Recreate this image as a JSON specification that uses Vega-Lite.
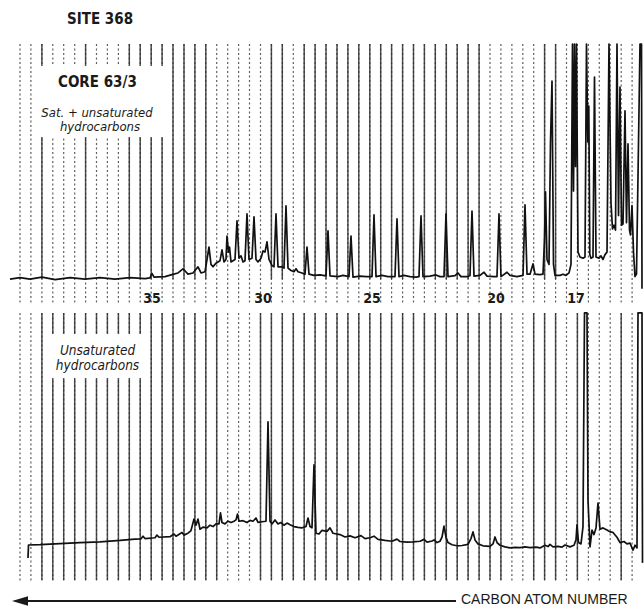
{
  "$schema": "https://vega.github.io/schema/vega-lite/v6.json",
  "padding": 0,
  "spacing": 0,
  "background": "white",
  "config": {"view": {"stroke": null}, "concat": {"spacing": 0}},
  "datasets": {
    "paperLines": [{"rt":20.0},{"rt":30.9},{"rt":41.9},{"rt":52.8},{"rt":63.7},{"rt":74.7},{"rt":85.6},{"rt":96.5},{"rt":107.4},{"rt":118.4},{"rt":129.3},{"rt":140.2},{"rt":151.2},{"rt":162.1},{"rt":173.0},{"rt":184.0},{"rt":194.9},{"rt":205.8},{"rt":216.7},{"rt":227.7},{"rt":238.6},{"rt":249.5},{"rt":260.5},{"rt":271.4},{"rt":282.3},{"rt":293.3},{"rt":304.2},{"rt":315.1},{"rt":326.0},{"rt":337.0},{"rt":347.9},{"rt":358.8},{"rt":369.8},{"rt":380.7},{"rt":391.6},{"rt":402.6},{"rt":413.5},{"rt":424.4},{"rt":435.3},{"rt":446.3},{"rt":457.2},{"rt":468.1},{"rt":479.1},{"rt":490.0},{"rt":500.9},{"rt":511.9},{"rt":522.8},{"rt":533.7},{"rt":544.6},{"rt":555.6},{"rt":566.5},{"rt":577.4},{"rt":588.4},{"rt":599.3},{"rt":610.2},{"rt":621.2},{"rt":632.1}],
    "topSolid": [{"rt":41.9},{"rt":85.6},{"rt":129.3},{"rt":140.2},{"rt":151.2},{"rt":162.1},{"rt":173.0},{"rt":184.0},{"rt":194.9},{"rt":205.8},{"rt":271.4},{"rt":282.3},{"rt":304.2},{"rt":315.1},{"rt":326.0},{"rt":337.0},{"rt":347.9},{"rt":358.8},{"rt":369.8},{"rt":380.7},{"rt":391.6},{"rt":402.6},{"rt":413.5},{"rt":424.4},{"rt":435.3},{"rt":446.3},{"rt":457.2},{"rt":468.1},{"rt":479.1},{"rt":544.6},{"rt":555.6}],
    "bottomSolid": [{"rt":41.9},{"rt":52.8},{"rt":63.7},{"rt":74.7},{"rt":85.6},{"rt":96.5},{"rt":107.4},{"rt":118.4},{"rt":129.3},{"rt":140.2},{"rt":151.2},{"rt":162.1},{"rt":173.0},{"rt":184.0},{"rt":194.9},{"rt":205.8},{"rt":216.7},{"rt":260.5},{"rt":271.4},{"rt":282.3},{"rt":293.3},{"rt":304.2},{"rt":315.1},{"rt":326.0},{"rt":337.0},{"rt":347.9},{"rt":358.8},{"rt":369.8},{"rt":380.7},{"rt":391.6},{"rt":402.6},{"rt":413.5},{"rt":424.4},{"rt":435.3},{"rt":446.3},{"rt":457.2},{"rt":468.1},{"rt":479.1},{"rt":490.0},{"rt":500.9},{"rt":533.7},{"rt":544.6},{"rt":555.6},{"rt":577.4},{"rt":621.2}],
    "topTrace": [{"rt":10,"signal":4.0},{"rt":20,"signal":4.6},{"rt":30,"signal":4.0},{"rt":42,"signal":4.8},{"rt":55,"signal":3.8},{"rt":70,"signal":4.6},{"rt":85,"signal":4.0},{"rt":100,"signal":4.6},{"rt":115,"signal":4.0},{"rt":130,"signal":4.6},{"rt":145,"signal":4.2},{"rt":150,"signal":4.5},{"rt":152,"signal":6.3},{"rt":154,"signal":4.8},{"rt":165,"signal":5.0},{"rt":172,"signal":5.8},{"rt":178,"signal":6.5},{"rt":183,"signal":8.2},{"rt":188,"signal":6.0},{"rt":193,"signal":6.5},{"rt":198,"signal":9.0},{"rt":201,"signal":6.5},{"rt":205,"signal":7.0},{"rt":207,"signal":12},{"rt":209,"signal":17.1},{"rt":211,"signal":10},{"rt":213,"signal":9.0},{"rt":216,"signal":10.5},{"rt":218,"signal":11},{"rt":220,"signal":11.5},{"rt":222,"signal":15.9},{"rt":224,"signal":11},{"rt":226,"signal":12},{"rt":227,"signal":21.6},{"rt":228.5,"signal":15},{"rt":229.5,"signal":17.1},{"rt":231,"signal":11},{"rt":233,"signal":11.5},{"rt":235,"signal":12},{"rt":237,"signal":27.8},{"rt":239,"signal":12.5},{"rt":241,"signal":13.5},{"rt":243,"signal":11},{"rt":245,"signal":11.5},{"rt":247,"signal":30.6},{"rt":249,"signal":12},{"rt":252,"signal":12.5},{"rt":254,"signal":29.4},{"rt":256,"signal":12},{"rt":258,"signal":11},{"rt":261,"signal":12.5},{"rt":263,"signal":15.5},{"rt":265,"signal":15},{"rt":267,"signal":19.2},{"rt":269,"signal":12},{"rt":272,"signal":9.5},{"rt":274,"signal":9},{"rt":276,"signal":30.6},{"rt":278,"signal":9},{"rt":281,"signal":9},{"rt":284,"signal":8.5},{"rt":286,"signal":33.9},{"rt":288,"signal":8.5},{"rt":291,"signal":7.5},{"rt":294,"signal":7.0},{"rt":296,"signal":8.2},{"rt":298,"signal":7.0},{"rt":302,"signal":6.5},{"rt":305,"signal":6.0},{"rt":307,"signal":17.1},{"rt":309,"signal":6.0},{"rt":314,"signal":5.5},{"rt":320,"signal":5.7},{"rt":326,"signal":5.3},{"rt":328,"signal":23.7},{"rt":330,"signal":5.3},{"rt":338,"signal":5.0},{"rt":343,"signal":5.5},{"rt":349,"signal":5.0},{"rt":351,"signal":21.6},{"rt":353,"signal":4.8},{"rt":360,"signal":5.2},{"rt":366,"signal":5.0},{"rt":372,"signal":5.0},{"rt":374,"signal":30.2},{"rt":376,"signal":5.0},{"rt":382,"signal":5.5},{"rt":388,"signal":5.0},{"rt":395,"signal":5.0},{"rt":397,"signal":28.6},{"rt":399,"signal":5.0},{"rt":404,"signal":5.5},{"rt":410,"signal":5.0},{"rt":416,"signal":4.8},{"rt":419,"signal":5.0},{"rt":421,"signal":29.8},{"rt":423,"signal":5.0},{"rt":430,"signal":5.2},{"rt":436,"signal":5.7},{"rt":440,"signal":5.0},{"rt":444,"signal":5.0},{"rt":446,"signal":30.6},{"rt":448,"signal":5.0},{"rt":455,"signal":5.4},{"rt":458,"signal":6.5},{"rt":461,"signal":5.0},{"rt":468,"signal":5.0},{"rt":470,"signal":5.5},{"rt":472,"signal":31.8},{"rt":474,"signal":5.2},{"rt":480,"signal":5.5},{"rt":484,"signal":6.8},{"rt":487,"signal":5.2},{"rt":494,"signal":5.0},{"rt":497,"signal":5.0},{"rt":499,"signal":30.6},{"rt":501,"signal":5.0},{"rt":507,"signal":6.8},{"rt":510,"signal":5.5},{"rt":517,"signal":5.0},{"rt":523,"signal":5.5},{"rt":525,"signal":34.3},{"rt":527,"signal":6.0},{"rt":530,"signal":6.0},{"rt":533,"signal":10.2},{"rt":535,"signal":6.0},{"rt":540,"signal":5.8},{"rt":543,"signal":6.0},{"rt":544.5,"signal":20},{"rt":545.5,"signal":39.6},{"rt":547,"signal":12},{"rt":549,"signal":10},{"rt":550.5,"signal":60},{"rt":552,"signal":84.9},{"rt":553.5,"signal":10},{"rt":555,"signal":5.5},{"rt":560,"signal":5.5},{"rt":563,"signal":6.0},{"rt":566,"signal":5.5},{"rt":569,"signal":6.5},{"rt":571,"signal":10},{"rt":572.5,"signal":100},{"rt":573.5,"signal":40},{"rt":574.5,"signal":100},{"rt":575.5,"signal":50},{"rt":576.5,"signal":100},{"rt":578,"signal":15},{"rt":580,"signal":13},{"rt":583,"signal":12.5},{"rt":585,"signal":13},{"rt":586.5,"signal":100},{"rt":587.8,"signal":60},{"rt":588.8,"signal":74.7},{"rt":589.8,"signal":14},{"rt":591,"signal":12.5},{"rt":593,"signal":13},{"rt":594.5,"signal":86.5},{"rt":596,"signal":13},{"rt":599,"signal":12.5},{"rt":601,"signal":13.5},{"rt":603,"signal":12},{"rt":605,"signal":14},{"rt":607,"signal":15},{"rt":609,"signal":100},{"rt":611,"signal":35},{"rt":612.5,"signal":24.5},{"rt":614,"signal":26},{"rt":615.5,"signal":24},{"rt":617,"signal":100},{"rt":618.5,"signal":30},{"rt":620,"signal":82.4},{"rt":621.5,"signal":26},{"rt":623,"signal":26.5},{"rt":625,"signal":72.7},{"rt":626.5,"signal":27},{"rt":628,"signal":59.2},{"rt":629.5,"signal":24},{"rt":630.5,"signal":22},{"rt":632,"signal":34},{"rt":633.5,"signal":15},{"rt":635,"signal":5},{"rt":636.5,"signal":6},{"rt":638,"signal":46.1},{"rt":640,"signal":100},{"rt":641.5,"signal":100},{"rt":642,"signal":0}],
    "bottomTrace": [{"rt":28,"signal":8.2},{"rt":28.5,"signal":13.1},{"rt":40,"signal":13.2},{"rt":60,"signal":13.6},{"rt":80,"signal":14.0},{"rt":100,"signal":14.3},{"rt":120,"signal":14.8},{"rt":135,"signal":15.3},{"rt":141,"signal":15.4},{"rt":143,"signal":16.4},{"rt":145,"signal":15.5},{"rt":155,"signal":15.8},{"rt":157,"signal":16.8},{"rt":159,"signal":16},{"rt":170,"signal":16.2},{"rt":174,"signal":17.2},{"rt":176,"signal":16.4},{"rt":182,"signal":17.8},{"rt":184,"signal":16.8},{"rt":188,"signal":17.5},{"rt":191,"signal":18.5},{"rt":194,"signal":22.8},{"rt":196,"signal":20.5},{"rt":198,"signal":22.8},{"rt":200,"signal":19},{"rt":203,"signal":19.8},{"rt":207,"signal":19.5},{"rt":210,"signal":20.5},{"rt":213,"signal":20},{"rt":216,"signal":21},{"rt":219,"signal":21},{"rt":220.5,"signal":25.1},{"rt":222,"signal":21.5},{"rt":225,"signal":21},{"rt":228,"signal":22},{"rt":231,"signal":21.5},{"rt":234,"signal":22},{"rt":236,"signal":22.5},{"rt":237.5,"signal":24.7},{"rt":239,"signal":22},{"rt":243,"signal":22.2},{"rt":247,"signal":21.5},{"rt":250,"signal":22.3},{"rt":253,"signal":22},{"rt":256,"signal":23.2},{"rt":258,"signal":21.6},{"rt":262,"signal":21.8},{"rt":266,"signal":22},{"rt":268,"signal":59.2},{"rt":270,"signal":22},{"rt":272,"signal":21},{"rt":275,"signal":22.5},{"rt":278,"signal":21},{"rt":281,"signal":21.5},{"rt":284,"signal":20.5},{"rt":287,"signal":21.3},{"rt":290,"signal":20.7},{"rt":294,"signal":20},{"rt":298,"signal":19.7},{"rt":302,"signal":19.5},{"rt":306,"signal":20},{"rt":308,"signal":23.2},{"rt":310,"signal":20},{"rt":312,"signal":19.5},{"rt":314,"signal":43.1},{"rt":316,"signal":17.5},{"rt":319,"signal":17.2},{"rt":322,"signal":18.6},{"rt":327,"signal":18.2},{"rt":330,"signal":19.5},{"rt":333,"signal":17.5},{"rt":340,"signal":17},{"rt":345,"signal":16.1},{"rt":350,"signal":16.5},{"rt":355,"signal":15.8},{"rt":361,"signal":16.6},{"rt":365,"signal":15.5},{"rt":370,"signal":15.8},{"rt":374,"signal":16.4},{"rt":378,"signal":15.2},{"rt":385,"signal":14.8},{"rt":392,"signal":14.5},{"rt":397,"signal":15.3},{"rt":400,"signal":14.4},{"rt":407,"signal":14.2},{"rt":413,"signal":14.3},{"rt":420,"signal":14.5},{"rt":424,"signal":15.2},{"rt":427,"signal":14.2},{"rt":432,"signal":14.6},{"rt":434,"signal":15.0},{"rt":437,"signal":14.0},{"rt":440,"signal":14.5},{"rt":442,"signal":16},{"rt":444,"signal":20.2},{"rt":446,"signal":16},{"rt":448,"signal":14},{"rt":452,"signal":13.2},{"rt":457,"signal":12.8},{"rt":462,"signal":12.9},{"rt":468,"signal":13.3},{"rt":471,"signal":15.5},{"rt":473,"signal":18.0},{"rt":475,"signal":15.0},{"rt":478,"signal":13.5},{"rt":483,"signal":12.8},{"rt":490,"signal":12.6},{"rt":493,"signal":13.5},{"rt":495,"signal":16.1},{"rt":497,"signal":14},{"rt":500,"signal":13},{"rt":505,"signal":12.4},{"rt":510,"signal":12},{"rt":515,"signal":12.2},{"rt":520,"signal":12.1},{"rt":525,"signal":12.4},{"rt":530,"signal":12.1},{"rt":536,"signal":12.3},{"rt":540,"signal":12.0},{"rt":545,"signal":13.0},{"rt":548,"signal":12.5},{"rt":550,"signal":13.3},{"rt":553,"signal":12.4},{"rt":558,"signal":12.6},{"rt":562,"signal":12.3},{"rt":565,"signal":13.1},{"rt":570,"signal":12.4},{"rt":574,"signal":13},{"rt":576,"signal":15},{"rt":577,"signal":20.6},{"rt":578.5,"signal":14},{"rt":581,"signal":13.5},{"rt":583,"signal":20},{"rt":584.5,"signal":100},{"rt":587,"signal":100},{"rt":588,"signal":30},{"rt":590,"signal":12.4},{"rt":592,"signal":18.7},{"rt":594,"signal":17},{"rt":596,"signal":19.5},{"rt":598,"signal":28.8},{"rt":600,"signal":19},{"rt":603,"signal":19.5},{"rt":607,"signal":18.7},{"rt":610,"signal":18},{"rt":613,"signal":17.8},{"rt":617,"signal":16},{"rt":620,"signal":14},{"rt":624,"signal":14.4},{"rt":627,"signal":13.5},{"rt":630,"signal":13.8},{"rt":633,"signal":11.2},{"rt":635,"signal":13},{"rt":637,"signal":12},{"rt":638,"signal":100},{"rt":642,"signal":100},{"rt":642.5,"signal":6.4}],
    "carbonLabels": [{"rt":152,"signal":-4.1,"carbon":"35"},{"rt":263,"signal":-4.1,"carbon":"30"},{"rt":372,"signal":-4.1,"carbon":"25"},{"rt":496,"signal":-4.1,"carbon":"20"},{"rt":576,"signal":-4.1,"carbon":"17"}]
  },
  "vconcat": [
    {
      "width": 644,
      "height": 306,
      "layer": [
        {
          "data": {"name": "paperLines"},
          "mark": {"type": "rule", "color": "#5e5e5e", "strokeWidth": 1.2, "strokeDash": [2, 2.5]},
          "encoding": {
            "x": {"field": "rt", "type": "quantitative", "scale": {"domain": [0, 644], "nice": false, "zero": false}, "axis": null},
            "y": {"datum": 100, "type": "quantitative", "scale": {"domain": [-7, 118], "nice": false, "zero": false}, "axis": null},
            "y2": {"datum": -6}
          }
        },
        {
          "data": {"name": "topSolid"},
          "mark": {"type": "rule", "color": "#2e2e2e", "strokeWidth": 1.5, "opacity": 0.85},
          "encoding": {
            "x": {"field": "rt", "type": "quantitative", "scale": {"domain": [0, 644], "nice": false, "zero": false}, "axis": null},
            "y": {"datum": 100, "type": "quantitative", "scale": {"domain": [-7, 118], "nice": false, "zero": false}, "axis": null},
            "y2": {"datum": 4}
          }
        },
        {
          "data": {"values": [{"x1": 36, "x2": 166, "v1": 91.0, "v2": 62.0}]},
          "mark": {"type": "rect", "fill": "white"},
          "encoding": {
            "x": {"field": "x1", "type": "quantitative", "scale": {"domain": [0, 644], "nice": false, "zero": false}, "axis": null},
            "x2": {"field": "x2"},
            "y": {"field": "v1", "type": "quantitative", "scale": {"domain": [-7, 118], "nice": false, "zero": false}, "axis": null},
            "y2": {"field": "v2"}
          }
        },
        {
          "data": {"name": "topTrace"},
          "mark": {"type": "line", "color": "#111111", "strokeWidth": 1.7, "strokeJoin": "round"},
          "encoding": {
            "x": {"field": "rt", "type": "quantitative", "scale": {"domain": [0, 644], "nice": false, "zero": false}, "axis": null},
            "y": {"field": "signal", "type": "quantitative", "scale": {"domain": [-7, 118], "nice": false, "zero": false}, "axis": null}
          }
        },
        {
          "data": {"name": "carbonLabels"},
          "mark": {"type": "text", "font": "DejaVu Sans Condensed, Liberation Sans Narrow, sans-serif", "fontWeight": "bold", "fontSize": 14, "color": "#1a1a1a", "align": "center", "baseline": "middle"},
          "encoding": {
            "x": {"field": "rt", "type": "quantitative", "scale": {"domain": [0, 644], "nice": false, "zero": false}, "axis": null},
            "y": {"field": "signal", "type": "quantitative", "scale": {"domain": [-7, 118], "nice": false, "zero": false}, "axis": null},
            "text": {"field": "carbon"}
          }
        },
        {
          "data": {"values": [{"rt": 67, "signal": 110.2, "label": "SITE 368"}, {"rt": 58, "signal": 84.7, "label": "CORE 63/3"}]},
          "mark": {"type": "text", "font": "DejaVu Sans Condensed, Liberation Sans Narrow, sans-serif", "fontWeight": "bold", "fontSize": 15, "color": "#1a1a1a", "align": "left", "baseline": "middle"},
          "encoding": {
            "x": {"field": "rt", "type": "quantitative", "scale": {"domain": [0, 644], "nice": false, "zero": false}, "axis": null},
            "y": {"field": "signal", "type": "quantitative", "scale": {"domain": [-7, 118], "nice": false, "zero": false}, "axis": null},
            "text": {"field": "label"}
          }
        },
        {
          "data": {"values": [{"rt": 97, "signal": 71.8, "label": "Sat. + unsaturated"}, {"rt": 100, "signal": 66.1, "label": "hydrocarbons"}]},
          "mark": {"type": "text", "font": "DejaVu Sans Condensed, Liberation Sans Narrow, sans-serif", "fontStyle": "italic", "fontSize": 13, "color": "#1a1a1a", "align": "center", "baseline": "middle"},
          "encoding": {
            "x": {"field": "rt", "type": "quantitative", "scale": {"domain": [0, 644], "nice": false, "zero": false}, "axis": null},
            "y": {"field": "signal", "type": "quantitative", "scale": {"domain": [-7, 118], "nice": false, "zero": false}, "axis": null},
            "text": {"field": "label"}
          }
        }
      ]
    },
    {
      "width": 644,
      "height": 300,
      "layer": [
        {
          "data": {"name": "paperLines"},
          "mark": {"type": "rule", "color": "#5e5e5e", "strokeWidth": 1.2, "strokeDash": [2, 2.5]},
          "encoding": {
            "x": {"field": "rt", "type": "quantitative", "scale": {"domain": [0, 644], "nice": false, "zero": false}, "axis": null},
            "y": {"datum": 100, "type": "quantitative", "scale": {"domain": [-9.75, 102.6], "nice": false, "zero": false}, "axis": null},
            "y2": {"datum": -1}
          }
        },
        {
          "data": {"name": "bottomSolid"},
          "mark": {"type": "rule", "color": "#2e2e2e", "strokeWidth": 1.5, "opacity": 0.85},
          "encoding": {
            "x": {"field": "rt", "type": "quantitative", "scale": {"domain": [0, 644], "nice": false, "zero": false}, "axis": null},
            "y": {"datum": 100, "type": "quantitative", "scale": {"domain": [-9.75, 102.6], "nice": false, "zero": false}, "axis": null},
            "y2": {"datum": 0}
          }
        },
        {
          "data": {"values": [{"x1": 45, "x2": 150, "v1": 92.1, "v2": 75.6}]},
          "mark": {"type": "rect", "fill": "white"},
          "encoding": {
            "x": {"field": "x1", "type": "quantitative", "scale": {"domain": [0, 644], "nice": false, "zero": false}, "axis": null},
            "x2": {"field": "x2"},
            "y": {"field": "v1", "type": "quantitative", "scale": {"domain": [-9.75, 102.6], "nice": false, "zero": false}, "axis": null},
            "y2": {"field": "v2"}
          }
        },
        {
          "data": {"name": "bottomTrace"},
          "mark": {"type": "line", "color": "#111111", "strokeWidth": 1.7, "strokeJoin": "round"},
          "encoding": {
            "x": {"field": "rt", "type": "quantitative", "scale": {"domain": [0, 644], "nice": false, "zero": false}, "axis": null},
            "y": {"field": "signal", "type": "quantitative", "scale": {"domain": [-9.75, 102.6], "nice": false, "zero": false}, "axis": null}
          }
        },
        {
          "data": {"values": [{"rt": 97.5, "signal": 85.75, "label": "Unsaturated"}, {"rt": 97.5, "signal": 80.1, "label": "hydrocarbons"}]},
          "mark": {"type": "text", "font": "DejaVu Sans Condensed, Liberation Sans Narrow, sans-serif", "fontStyle": "italic", "fontSize": 13.5, "color": "#1a1a1a", "align": "center", "baseline": "middle"},
          "encoding": {
            "x": {"field": "rt", "type": "quantitative", "scale": {"domain": [0, 644], "nice": false, "zero": false}, "axis": null},
            "y": {"field": "signal", "type": "quantitative", "scale": {"domain": [-9.75, 102.6], "nice": false, "zero": false}, "axis": null},
            "text": {"field": "label"}
          }
        },
        {
          "data": {"values": [{"from": 22, "to": 456, "signal": -7.88}]},
          "mark": {"type": "rule", "color": "#1a1a1a", "strokeWidth": 2},
          "encoding": {
            "x": {"field": "from", "type": "quantitative", "scale": {"domain": [0, 644], "nice": false, "zero": false}, "axis": null},
            "x2": {"field": "to"},
            "y": {"field": "signal", "type": "quantitative", "scale": {"domain": [-9.75, 102.6], "nice": false, "zero": false}, "axis": null}
          }
        },
        {
          "data": {"values": [{"rt": 20, "signal": -7.88}]},
          "mark": {"type": "point", "shape": "M -1 0 L 1 -0.6 L 1 0.6 Z", "size": 256, "filled": true, "color": "#1a1a1a", "opacity": 1},
          "encoding": {
            "x": {"field": "rt", "type": "quantitative", "scale": {"domain": [0, 644], "nice": false, "zero": false}, "axis": null},
            "y": {"field": "signal", "type": "quantitative", "scale": {"domain": [-9.75, 102.6], "nice": false, "zero": false}, "axis": null}
          }
        },
        {
          "data": {"values": [{"rt": 461, "signal": -7.5, "label": "CARBON ATOM NUMBER"}]},
          "mark": {"type": "text", "font": "Liberation Sans, sans-serif", "fontSize": 14, "color": "#1a1a1a", "align": "left", "baseline": "middle"},
          "encoding": {
            "x": {"field": "rt", "type": "quantitative", "scale": {"domain": [0, 644], "nice": false, "zero": false}, "axis": null},
            "y": {"field": "signal", "type": "quantitative", "scale": {"domain": [-9.75, 102.6], "nice": false, "zero": false}, "axis": null},
            "text": {"field": "label"}
          }
        }
      ]
    }
  ]
}
